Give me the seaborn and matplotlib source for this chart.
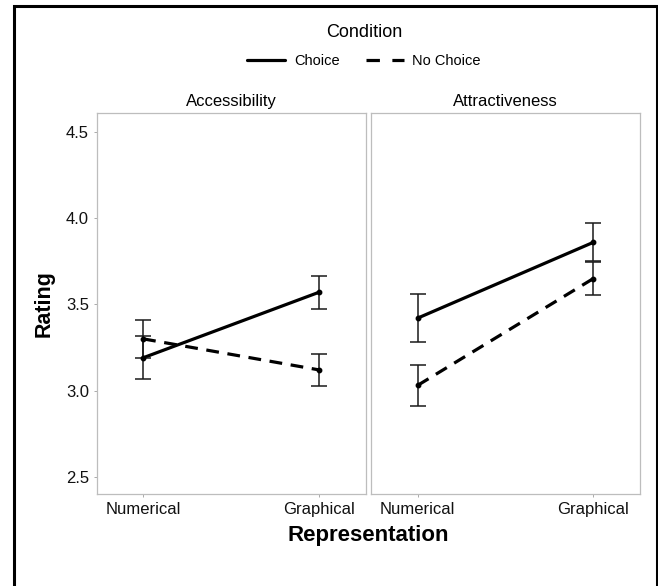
import matplotlib
matplotlib.use("Agg")
import matplotlib.pyplot as plt
from matplotlib.lines import Line2D
from matplotlib.patches import Rectangle
import seaborn as sns
import pandas as pd

# Data
facets = ["Accessibility", "Attractiveness"]
representations = ["Numerical", "Graphical"]
conditions = ["Choice", "No Choice"]

# mean rating per facet, condition, representation (Numerical, Graphical)
means = {
    ("Accessibility", "Choice"): [3.19, 3.57],
    ("Accessibility", "No Choice"): [3.30, 3.12],
    ("Attractiveness", "Choice"): [3.42, 3.86],
    ("Attractiveness", "No Choice"): [3.03, 3.65],
}
# half-width of error bars
errors = {
    ("Accessibility", "Choice"): [0.125, 0.097],
    ("Accessibility", "No Choice"): [0.11, 0.092],
    ("Attractiveness", "Choice"): [0.14, 0.11],
    ("Attractiveness", "No Choice"): [0.118, 0.094],
}

rows = []
for (facet, cond), vals in means.items():
    for rep, m, e in zip(representations, vals, errors[(facet, cond)]):
        rows.append({"facet": facet, "condition": cond, "representation": rep,
                     "rating": m, "err": e})
df = pd.DataFrame(rows)

sns.set_style("white")
plt.rcParams["font.family"] = ["Liberation Sans", "DejaVu Sans"]

W, H = 658, 586
fig = plt.figure(figsize=(W / 100, H / 100), dpi=100)


def px_axes(x0, y0, x1, y1):
    return fig.add_axes([x0 / W, 1 - y1 / H, (x1 - x0) / W, (y1 - y0) / H])


axes = [px_axes(96.5, 113, 365.5, 494), px_axes(371, 113, 640, 494)]
dash_map = {"Choice": "", "No Choice": (4, 2.7)}

for ax, facet in zip(axes, facets):
    sub = df[df["facet"] == facet]
    sns.lineplot(data=sub, x="representation", y="rating", style="condition",
                 style_order=conditions, dashes=dash_map, color="black",
                 linewidth=2.3, ax=ax, legend=False, sort=False)
    for cond in conditions:
        s = sub[sub["condition"] == cond]
        ax.errorbar(s["representation"], s["rating"], yerr=s["err"], fmt="o",
                    color="black", ecolor="#1a1a1a", elinewidth=1.1,
                    capsize=5.5, capthick=1.1, markersize=3.2, zorder=3)
    ax.set_xlim(-0.265, 1.265)
    ax.set_ylim(2.4, 4.61)
    ax.set_yticks([2.5, 3.0, 3.5, 4.0, 4.5])
    ax.set_xlabel("")
    ax.set_ylabel("")
    ax.set_title(facet, fontsize=12, pad=5, color="black")
    for sp in ax.spines.values():
        sp.set_visible(True)
        sp.set_color("#bdbdbd")
        sp.set_linewidth(0.9)
    ax.tick_params(axis="both", which="both", length=2.5, width=0.7,
                   color="#aaaaaa", labelsize=12, labelcolor="#111111",
                   pad=3, bottom=True, left=True)
    ax.grid(False)

axes[1].tick_params(axis="y", left=False, labelleft=False)
axes[0].set_yticklabels(["2.5", "3.0", "3.5", "4.0", "4.5"])

fig.text(44.5 / W, 1 - 304 / H, "Rating", rotation=90, ha="center",
         va="center", fontsize=15.5, fontweight="bold", color="black")
fig.text(368 / W, 1 - 536 / H, "Representation", ha="center", va="center",
         fontsize=16, fontweight="bold", color="black")

handles = [Line2D([], [], color="black", lw=2.3, linestyle="-"),
           Line2D([], [], color="black", lw=2.3, linestyle=(0, (4.2, 3.9)))]
leg = fig.legend(handles, conditions, title="Condition", ncol=2,
                 loc="center", bbox_to_anchor=(364 / W, 1 - 46 / H),
                 frameon=False, fontsize=10.5, title_fontsize=13,
                 handlelength=2.6, handletextpad=0.6, columnspacing=1.8,
                 borderpad=0.2)
leg._legend_box.sep = 9
for t in leg.get_texts():
    t.set_color("black")
leg.get_title().set_color("black")

fig.patches.append(Rectangle((14 / W, -0.1), (657 - 14) / W, 1.1 - 6 / H,
                             transform=fig.transFigure, fill=False,
                             edgecolor="black", linewidth=2.2))

fig.savefig("out.png", dpi=100)
